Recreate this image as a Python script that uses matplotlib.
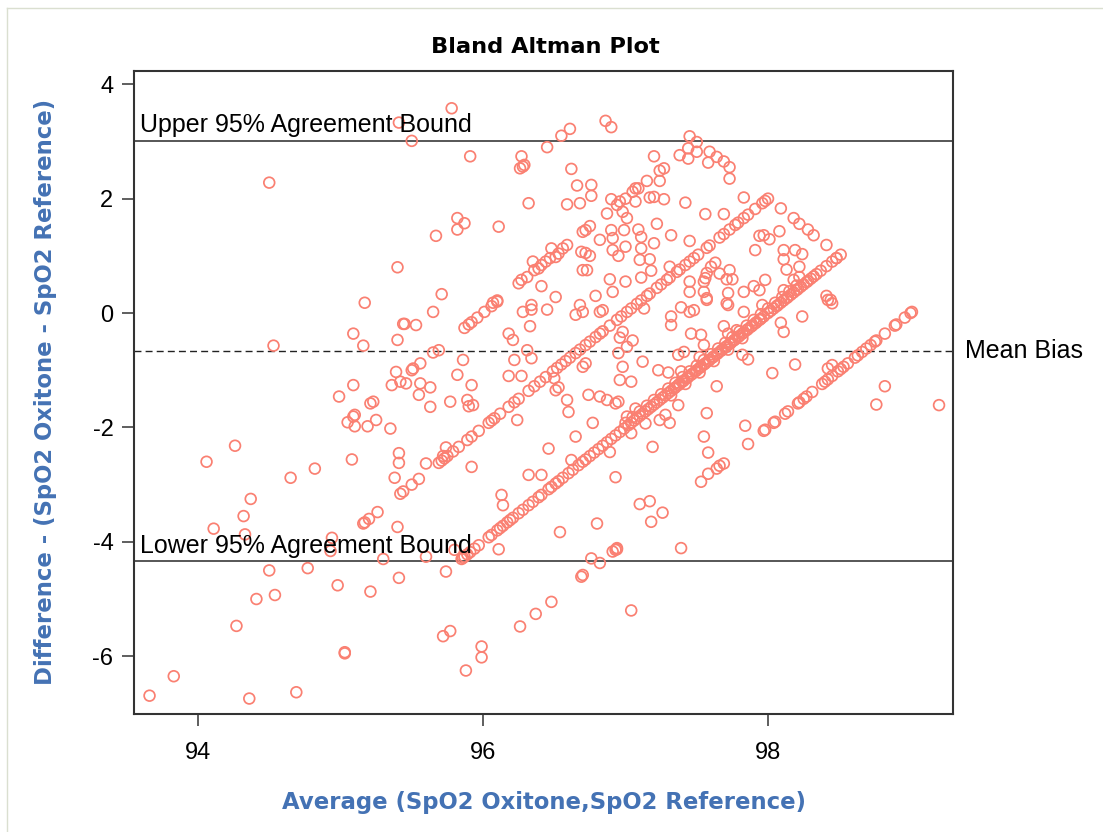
import matplotlib.pyplot as plt
from matplotlib.lines import Line2D

plt.rcParams['axes.unicode_minus'] = False

# (average, difference) pairs, grouped by the visible bands
# band with reference = 96
ref96 = [(95.05, -1.91), (95.09, -1.81), (95.10, -1.78), (95.21, -1.58), (95.23, -1.55),
         (95.36, -1.26), (95.42, -1.20), (95.50, -1.00), (95.51, -0.97), (95.65, -0.69),
         (95.69, -0.65), (95.87, -0.26), (95.90, -0.20), (95.92, -0.16), (95.96, -0.08),
         (96.01, 0.02), (96.06, 0.12), (96.10, 0.20), (96.25, 0.52), (96.27, 0.58),
         (96.31, 0.63), (96.35, 0.90), (96.36, 0.75), (96.39, 0.78), (96.41, 0.84),
         (96.44, 0.90), (96.47, 0.96), (96.48, 1.13), (96.51, 0.98), (96.53, 1.04),
         (96.56, 1.13), (96.59, 1.19), (96.72, 1.45), (96.75, 1.52), (96.87, 1.74),
         (96.94, 1.89), (96.96, 1.95), (97.00, 2.00), (97.05, 2.12), (97.07, 2.18),
         (97.09, 2.18), (97.15, 2.31), (97.24, 2.49), (97.27, 2.53)]

# band with reference = 97
ref97 = [(95.16, -3.68), (95.17, -3.66), (95.20, -3.60), (95.26, -3.48), (95.44, -3.12),
         (95.50, -3.00), (95.55, -2.90), (95.69, -2.62), (95.71, -2.58), (95.72, -2.50),
         (95.73, -2.54), (95.74, -2.35), (95.75, -2.50), (95.79, -2.42), (95.83, -2.34),
         (95.89, -2.22), (95.92, -2.16), (95.97, -2.06), (96.04, -1.92), (96.06, -1.88),
         (96.08, -1.84), (96.12, -1.76), (96.18, -1.64), (96.22, -1.56), (96.25, -1.50),
         (96.32, -1.36), (96.36, -1.28), (96.40, -1.20), (96.44, -1.12), (96.49, -1.02),
         (96.52, -0.96), (96.55, -0.90), (96.58, -0.84), (96.61, -0.78), (96.65, -0.70),
         (96.68, -0.64), (96.72, -0.56), (96.75, -0.50), (96.79, -0.42), (96.82, -0.36),
         (96.84, -0.32), (96.89, -0.22), (96.94, -0.12), (96.97, -0.06), (97.01, 0.02),
         (97.04, 0.08), (97.08, 0.16), (97.11, 0.22), (97.15, 0.30), (97.17, 0.34),
         (97.22, 0.44), (97.25, 0.50), (97.29, 0.58), (97.31, 0.62), (97.36, 0.72),
         (97.38, 0.76), (97.42, 0.84), (97.45, 0.90), (97.48, 0.96), (97.51, 1.02),
         (97.57, 1.14), (97.59, 1.18), (97.66, 1.32), (97.69, 1.38), (97.73, 1.46),
         (97.77, 1.54), (97.79, 1.58), (97.83, 1.66), (97.86, 1.72), (97.91, 1.82),
         (97.96, 1.92), (97.98, 1.96), (98.00, 2.00)]

# band with reference = 98 (the densest one)
ref98 = [(95.85, -4.30), (95.86, -4.28), (95.87, -4.26), (95.89, -4.22), (95.91, -4.18),
         (95.94, -4.12), (95.97, -4.06), (96.04, -3.92), (96.06, -3.88), (96.10, -3.80),
         (96.12, -3.76), (96.14, -3.72), (96.17, -3.66), (96.19, -3.62), (96.21, -3.58),
         (96.25, -3.50), (96.28, -3.44), (96.32, -3.36), (96.35, -3.30), (96.39, -3.22),
         (96.41, -3.18), (96.46, -3.08), (96.48, -3.04), (96.51, -2.98), (96.53, -2.94),
         (96.56, -2.88), (96.60, -2.80), (96.63, -2.74), (96.67, -2.66), (96.70, -2.60),
         (96.72, -2.56), (96.75, -2.50), (96.78, -2.44), (96.81, -2.38), (96.84, -2.32),
         (96.87, -2.26), (96.90, -2.20), (96.93, -2.14), (96.96, -2.08), (96.99, -2.02),
         (97.02, -1.96), (97.04, -1.92), (97.06, -1.88), (97.08, -1.84), (97.10, -1.80),
         (97.12, -1.76), (97.14, -1.72), (97.16, -1.68), (97.18, -1.64), (97.20, -1.60),
         (97.22, -1.56), (97.24, -1.52), (97.26, -1.48), (97.28, -1.44), (97.30, -1.40),
         (97.32, -1.36), (97.34, -1.32), (97.35, -1.30), (97.37, -1.26), (97.38, -1.24),
         (97.40, -1.20), (97.41, -1.18), (97.43, -1.14), (97.44, -1.12), (97.46, -1.08),
         (97.47, -1.06), (97.49, -1.02), (97.50, -1.00), (97.52, -0.96), (97.53, -0.94),
         (97.55, -0.90), (97.56, -0.88), (97.58, -0.84), (97.59, -0.82), (97.61, -0.78),
         (97.62, -0.76), (97.64, -0.72), (97.65, -0.70), (97.67, -0.66), (97.68, -0.64),
         (97.70, -0.60), (97.71, -0.58), (97.73, -0.54), (97.74, -0.52), (97.76, -0.48),
         (97.77, -0.46), (97.79, -0.42), (97.80, -0.40), (97.82, -0.36), (97.83, -0.34),
         (97.85, -0.30), (97.86, -0.28), (97.88, -0.24), (97.89, -0.22), (97.91, -0.18),
         (97.92, -0.16), (97.94, -0.12), (97.95, -0.10), (97.97, -0.06), (98.00, 0.00),
         (98.02, 0.04), (98.04, 0.08), (98.06, 0.12), (98.07, 0.14), (98.09, 0.18),
         (98.11, 0.22), (98.13, 0.26), (98.14, 0.28), (98.16, 0.32), (98.18, 0.36),
         (98.20, 0.40), (98.21, 0.42), (98.23, 0.46), (98.25, 0.50), (98.27, 0.54),
         (98.28, 0.56), (98.30, 0.60), (98.32, 0.64), (98.34, 0.68), (98.37, 0.74),
         (98.41, 0.82), (98.45, 0.90), (98.48, 0.96), (98.51, 1.02),
         (97.00, -1.92), (97.05, -1.82), (97.10, -1.72), (97.15, -1.62), (97.20, -1.52),
         (97.25, -1.42), (97.30, -1.32), (97.35, -1.22), (97.40, -1.12), (97.45, -1.02),
         (97.50, -0.92), (97.55, -0.82), (97.60, -0.72), (97.65, -0.62), (97.70, -0.52),
         (97.75, -0.42), (97.80, -0.32), (97.85, -0.22), (97.90, -0.12), (97.95, -0.02),
         (98.00, 0.08), (98.05, 0.18), (98.10, 0.28), (98.15, 0.38), (98.20, 0.48),
         (97.32, -1.44), (97.42, -1.24), (97.52, -1.04), (97.62, -0.84), (97.72, -0.64),
         (97.82, -0.44)]

# band with reference = 99
ref99 = [(97.97, -2.06), (97.98, -2.04), (98.04, -1.92), (98.05, -1.90), (98.12, -1.76),
         (98.14, -1.72), (98.21, -1.58), (98.22, -1.56), (98.25, -1.50), (98.27, -1.46),
         (98.31, -1.38), (98.38, -1.24), (98.40, -1.20), (98.42, -1.16), (98.45, -1.10),
         (98.49, -1.02), (98.51, -0.98), (98.53, -0.94), (98.56, -0.88), (98.61, -0.78),
         (98.63, -0.74), (98.66, -0.68), (98.69, -0.62), (98.72, -0.56), (98.75, -0.50),
         (98.76, -0.48), (98.82, -0.36), (98.89, -0.22), (98.90, -0.20), (98.96, -0.08),
         (99.00, 0.00), (99.01, 0.02)]

# falling band with oxitone = 99
ox99 = [(97.38, 2.76), (97.44, 2.70), (97.44, 2.88), (97.45, 3.09), (97.50, 2.99),
        (97.50, 2.82), (97.58, 2.63), (97.59, 2.82), (97.64, 2.73), (97.69, 2.65),
        (97.73, 2.55), (97.73, 2.35), (98.09, 1.83), (98.18, 1.66), (98.22, 1.56),
        (98.28, 1.46), (98.32, 1.36), (98.41, 1.19), (98.48, 0.96)]

# everything else
scattered = [
    (95.41, 3.33), (94.50, 2.28), (95.40, 0.80), (95.17, 0.18), (95.09, -0.36),
    (95.16, -0.57), (94.53, -0.57), (95.40, -0.47), (95.44, -0.19), (95.39, -1.03),
    (95.09, -1.26), (94.99, -1.46),
    (95.10, -1.98), (95.19, -1.98), (95.25, -1.87), (95.35, -2.02), (94.26, -2.32),
    (94.06, -2.60), (94.82, -2.72), (95.08, -2.56), (94.65, -2.88), (95.41, -2.45),
    (95.41, -2.62), (95.38, -2.88), (95.42, -3.16), (94.37, -3.25), (94.32, -3.55),
    (94.11, -3.77), (94.33, -3.87), (94.94, -3.93), (94.93, -4.16), (95.30, -4.30),
    (95.40, -3.74), (95.41, -4.63), (94.50, -4.50), (94.77, -4.46), (94.98, -4.76),
    (95.21, -4.87), (94.41, -5.00), (94.54, -4.93), (94.27, -5.47), (95.03, -5.93),
    (95.03, -5.95), (93.83, -6.35), (93.66, -6.69), (94.36, -6.74), (94.69, -6.63),
    (95.78, 3.58), (95.50, 3.01), (95.91, 2.74), (96.27, 2.74), (96.26, 2.53),
    (96.28, 2.56), (96.29, 2.59), (96.45, 2.90), (96.55, 3.10), (96.61, 3.22),
    (96.62, 2.52), (96.66, 2.23), (96.32, 1.92), (96.59, 1.90), (96.68, 1.92),
    (95.82, 1.66), (95.87, 1.57), (95.82, 1.46), (96.11, 1.51), (95.67, 1.35),
    (96.70, 1.42), (96.69, 1.07), (96.70, 0.75), (96.41, 0.47), (96.51, 0.28),
    (95.71, 0.33), (96.07, 0.18), (96.10, 0.22), (96.34, 0.14), (96.68, 0.14),
    (96.86, 3.36), (96.90, 3.25), (97.20, 2.74), (97.24, 2.31), (96.76, 2.24),
    (96.76, 2.05), (96.90, 1.99), (96.98, 1.77), (97.01, 1.66), (97.07, 1.95),
    (97.17, 2.02), (97.20, 2.03), (97.27, 1.99), (97.42, 1.93), (97.22, 1.56),
    (97.32, 1.36), (96.90, 1.45), (96.91, 1.31), (96.99, 1.45), (96.82, 1.28),
    (97.09, 1.46), (97.11, 1.33), (97.20, 1.22), (97.45, 1.26), (97.56, 1.73),
    (97.69, 1.73), (97.83, 2.02), (96.72, 1.05), (96.75, 1.00), (96.91, 1.10),
    (96.95, 1.00), (97.00, 1.16), (97.11, 1.13), (97.10, 0.93), (97.17, 0.94),
    (96.73, 0.75), (97.18, 0.74), (97.31, 0.81), (97.11, 0.62), (96.89, 0.59),
    (96.91, 0.37), (97.00, 0.55), (96.79, 0.30), (97.45, 0.55), (97.45, 0.37),
    (97.55, 0.55), (97.56, 0.61), (97.57, 0.70), (97.60, 0.81), (97.63, 0.88),
    (97.66, 0.69), (97.71, 0.59), (97.73, 0.75), (97.75, 0.59), (97.55, 0.37),
    (97.57, 0.26), (97.72, 0.35), (97.83, 0.37), (97.90, 0.47), (97.98, 0.58),
    (97.91, 1.10), (97.94, 1.35),
    (98.08, 1.43), (97.97, 1.36), (98.01, 1.29), (98.11, 1.10), (98.11, 0.94),
    (98.13, 0.76), (98.19, 1.10), (98.24, 1.03), (98.22, 0.81), (98.18, 0.58),
    (98.22, 0.63), (98.41, 0.30), (98.44, 0.23), (97.94, 0.40), (98.11, 0.40),
    (95.65, 0.02), (95.45, -0.19), (95.53, -0.21), (96.28, 0.02), (96.34, 0.06),
    (96.45, 0.06), (96.65, -0.03), (96.70, 0.02), (96.33, -0.23), (96.18, -0.36),
    (96.21, -0.47), (96.31, -0.65), (96.34, -0.79), (95.86, -0.82), (96.22, -0.82),
    (95.56, -0.88), (95.46, -1.23), (95.56, -1.23), (95.63, -1.30), (95.55, -1.43),
    (95.82, -1.08), (95.92, -1.26), (96.18, -1.10), (96.27, -1.10), (95.63, -1.64),
    (95.77, -1.55), (95.89, -1.52), (95.90, -1.63), (95.93, -1.61), (96.24, -1.87),
    (96.46, -2.37), (95.92, -2.69), (95.60, -2.63), (96.32, -2.83), (96.41, -2.83),
    (96.13, -3.18), (96.59, -1.52), (96.60, -1.73), (96.65, -2.16), (96.62, -2.57),
    (96.50, -1.14), (96.51, -1.35), (96.53, -1.30),
    (96.82, 0.02), (96.84, 0.05), (97.13, 0.08), (97.39, 0.10), (97.45, 0.02),
    (97.48, 0.05), (97.57, 0.23), (97.71, 0.17), (97.72, 0.14), (97.83, 0.02),
    (97.96, 0.14), (97.32, -0.06), (97.32, -0.21), (97.46, -0.36), (97.53, -0.38),
    (97.55, -0.56), (97.69, -0.23), (97.78, -0.30), (97.72, -0.36), (96.96, -0.43),
    (97.05, -0.48), (97.01, -0.59), (97.37, -0.73), (97.41, -0.68), (97.52, -0.77),
    (97.82, -0.73), (97.86, -0.81), (97.12, -0.85), (96.98, -0.94), (97.23, -1.00),
    (97.30, -1.04), (96.72, -0.88), (96.70, -0.94), (96.96, -1.17), (97.04, -1.20),
    (97.64, -1.28), (96.74, -1.43), (96.82, -1.46), (96.87, -1.52), (96.93, -1.58),
    (96.95, -1.55), (97.37, -1.61), (97.07, -1.67), (97.57, -1.75), (97.28, -1.78),
    (97.24, -1.87), (97.31, -1.92), (97.01, -1.81), (96.77, -1.92), (97.14, -1.93),
    (97.04, -2.10), (97.55, -2.16), (97.84, -1.97), (97.86, -2.29), (97.19, -2.34),
    (96.89, -2.43), (97.58, -2.44), (97.69, -2.63), (97.66, -2.67), (97.64, -2.72),
    (97.58, -2.81), (97.53, -2.95), (96.93, -2.87), (97.10, -3.34), (97.17, -3.29),
    (96.95, -0.70), (96.98, -0.33), (97.39, -1.02),
    (98.03, -1.05), (98.19, -0.90), (98.09, -0.17), (98.11, -0.33), (98.24, -0.06),
    (98.45, 0.17), (98.42, 0.23), (98.42, -0.97), (98.45, -0.91), (98.82, -1.28),
    (98.76, -1.60), (99.20, -1.61),
    (96.14, -3.36), (96.54, -3.83), (95.60, -4.26), (95.74, -4.52), (96.11, -4.13),
    (95.80, -4.14), (96.69, -4.61), (96.70, -4.58), (95.72, -5.65), (95.77, -5.56),
    (95.99, -5.83), (95.99, -6.02), (95.88, -6.25), (96.26, -5.48), (96.37, -5.26),
    (96.48, -5.05),
    (97.26, -3.49), (97.18, -3.65), (96.80, -3.68), (96.91, -4.17), (96.93, -4.14),
    (96.94, -4.13), (96.94, -4.11), (97.39, -4.11), (96.76, -4.29), (96.82, -4.37),
    (97.04, -5.20)]

upper_bound = 3.01
mean_bias = -0.67
lower_bound = -4.34

x_ticks = [94, 96, 98]
y_ticks = [-6, -4, -2, 0, 2, 4]

groups = [ref96, ref97, ref98, ref99, ox99, scattered]
avg = [p[0] for g in groups for p in g]
diff = [p[1] for g in groups for p in g]

label_blue = '#4472B4'
point_col = '#FA8072'

fig = plt.figure(figsize=(11.03, 8.32), dpi=100)
ax = fig.add_axes([0.1211, 0.1424, 0.7429, 0.7727])

ax.axhline(upper_bound, color='#3a3a3a', lw=1.2, zorder=2)
ax.axhline(lower_bound, color='#3a3a3a', lw=1.2, zorder=2)
ax.axhline(mean_bias, color='#222222', lw=1.0, ls=(0, (5, 3)), zorder=2)

ax.scatter(avg, diff, s=60, facecolors='none', edgecolors=point_col,
           linewidths=1.25, zorder=3)

ax.set_xlim(93.548, 99.298)
ax.set_ylim(-7.002, 4.238)
ax.set_xticks(x_ticks)
ax.set_yticks(y_ticks)

for sp in ax.spines.values():
    sp.set_linewidth(1.5)
    sp.set_color('#333333')

ax.tick_params(direction='out', length=8.5, width=1.1, color='#333333', labelsize=17)
ax.tick_params(axis='x', pad=12)
ax.tick_params(axis='y', pad=6)
for lab in ax.get_xticklabels() + ax.get_yticklabels():
    lab.set_family('Liberation Sans')

ax.text(93.591, 3.17, 'Upper 95% Agreement Bound', fontsize=18,
        family='Liberation Sans', va='baseline', ha='left', zorder=4)
ax.text(93.591, -4.19, 'Lower 95% Agreement Bound', fontsize=18,
        family='Liberation Sans', va='baseline', ha='left', zorder=4)
ax.text(99.382, mean_bias, 'Mean Bias', fontsize=18,
        family='Liberation Sans', va='center', ha='left')

fig.text(0.494, 0.936, 'Bland Altman Plot', fontsize=16.2, fontweight='bold',
         family='DejaVu Sans', ha='center', va='baseline')
fig.text(0.4936, 0.0276, 'Average (SpO2 Oxitone,SpO2 Reference)', fontsize=16.4,
         fontweight='bold', family='DejaVu Sans', color=label_blue,
         ha='center', va='baseline')
fig.text(0.0414, 0.529, 'Difference - (SpO2 Oxitone - SpO2 Reference)', fontsize=16.4,
         fontweight='bold', family='DejaVu Sans', color=label_blue,
         rotation=90, ha='center', va='center')

# faint outer frame on the left and top edges
fig.add_artist(Line2D([0.0063, 0.0063], [0.0, 0.990], transform=fig.transFigure,
                      color='#DADFD0', lw=1.0))
fig.add_artist(Line2D([0.0063, 1.0], [0.990, 0.990], transform=fig.transFigure,
                      color='#DADFD0', lw=1.0))

fig.savefig('out.png', dpi=100)
